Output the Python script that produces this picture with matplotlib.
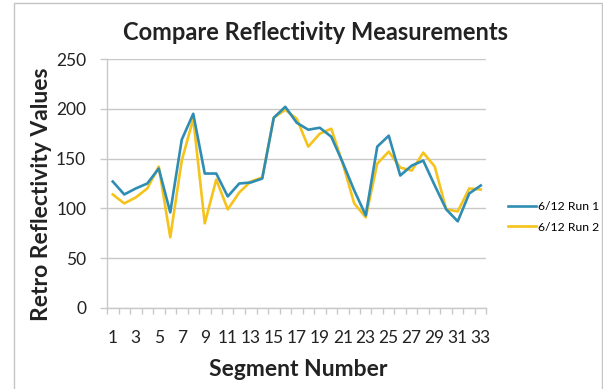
import matplotlib
matplotlib.use("Agg")
import matplotlib.pyplot as plt
from matplotlib.patches import Rectangle
from matplotlib.ticker import FixedLocator
import numpy as np


# Data
segments = list(range(1, 34))

run_1 = [127, 114, 120, 125, 140, 96, 169, 195, 135, 135, 112, 125, 126, 130,
         191, 202, 186, 179, 181, 172, 146, 118, 93, 162, 173, 133, 143, 148,
         123, 99, 87, 115, 123]

run_2 = [114, 105, 111, 120, 142, 71, 148, 190, 85, 129, 99, 116, 127, 131,
         191, 199, 190, 162, 175, 180, 145, 105, 91, 145, 157, 141, 138, 156,
         142, 99, 97, 120, 119]

series_labels = ["6/12 Run 1", "6/12 Run 2"]
y_ticks = [0, 50, 100, 150, 200, 250]


# Figure
plt.rcParams["font.family"] = ["Lato", "DejaVu Sans"]

W, H = 603, 389
fig = plt.figure(figsize=(W / 100, H / 100), dpi=100)

# outer chart border
fig.patches.append(Rectangle((14 / W, -0.01), (602 - 14) / W, 1 - 3 / H + 0.01,
                             transform=fig.transFigure, fill=False,
                             edgecolor="#c4c4c4", linewidth=1.0))

ax = fig.add_axes([107 / W, 1 - 308 / H, 379.5 / W, 249 / H])

blue = "#2f8db3"
yellow = "#f6c31c"

ax.plot(segments, run_1, color=blue, linewidth=1.9, label=series_labels[0],
        zorder=3)
ax.plot(segments, run_2, color=yellow, linewidth=1.9, label=series_labels[1],
        zorder=2)

ax.set_xlim(0.5, 33.5)
ax.set_ylim(0, 250)

ax.set_yticks(y_ticks)
ax.set_xticks(segments[::2])
ax.xaxis.set_minor_locator(FixedLocator(np.arange(0.5, 34, 1)))

ax.grid(axis="y", color="#c8c8c8", linewidth=1.0)
ax.set_axisbelow(True)

for side in ["top", "right"]:
    ax.spines[side].set_visible(False)
for side in ["left", "bottom"]:
    ax.spines[side].set_color("#c8c8c8")
    ax.spines[side].set_linewidth(1.0)

ax.tick_params(axis="x", which="major", length=0, pad=16, labelsize=12.5,
               labelcolor="#222222")
ax.tick_params(axis="x", which="minor", length=4, color="#c8c8c8", width=1.0)
ax.tick_params(axis="y", length=5, color="#c8c8c8", width=1.0, pad=10,
               labelsize=12.5, labelcolor="#222222")

label_font = dict(fontsize=16.5, fontweight="bold", color="#222222")

fig.text(316 / W, 1 - 33 / H, "Compare Reflectivity Measurements",
         ha="center", va="center", fontsize=17, fontweight="bold",
         color="#222222")
fig.text(298 / W, 1 - 369 / H, "Segment Number", ha="center", va="center",
         **label_font)
fig.text(42 / W, 1 - 194 / H, "Retro Reflectivity Values", ha="center",
         va="center", rotation=90, **label_font)

fig.legend(loc="center left", bbox_to_anchor=(503 / W, 1 - 217 / H),
           frameon=False, fontsize=8.8, handlelength=2.3, handletextpad=0.2,
           labelspacing=0.75, borderaxespad=0)

fig.savefig("out.png", dpi=100)
